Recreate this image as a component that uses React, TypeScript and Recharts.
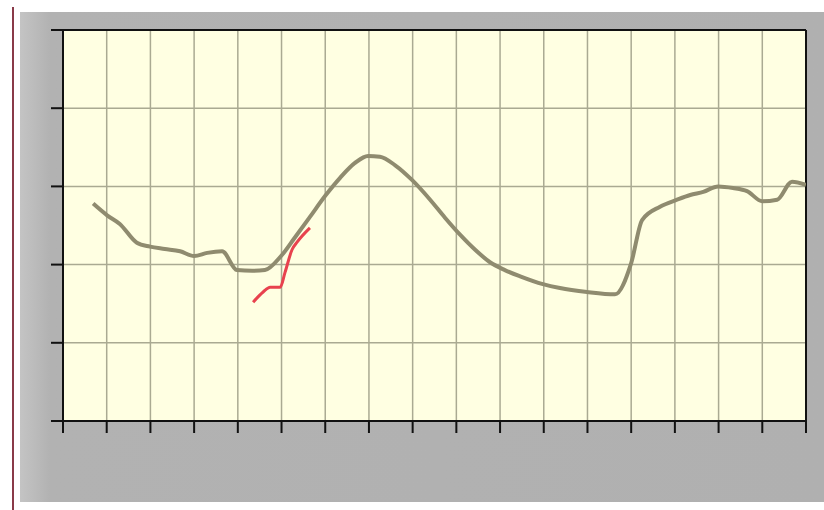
import React from 'react';
import {
  LineChart,
  Line,
  XAxis,
  YAxis,
  CartesianGrid,
  ReferenceLine,
} from 'recharts';

// main trace (x in grid columns, y in grid rows)
const mainX = [
  0.69, 1.01, 1.3, 1.69, 1.99, 2.33, 2.68, 3.0, 3.3, 3.64, 3.98, 4.33, 4.62, 4.99,
  5.31, 5.65, 6.0, 6.34, 6.68, 6.98, 7.25, 7.6, 7.99, 8.4, 8.74, 9.09, 9.43, 9.77,
  10.11, 10.46, 10.98, 11.37, 11.99, 12.63, 13.0, 13.25, 13.66, 14.05, 14.35, 14.65,
  14.99, 15.33, 15.65, 16.0, 16.34, 16.68, 17.0,
];
const mainY = [
  2.78, 2.63, 2.52, 2.28, 2.23, 2.2, 2.17, 2.11, 2.15, 2.17, 1.93, 1.92, 1.93, 2.11,
  2.35, 2.61, 2.88, 3.11, 3.3, 3.39, 3.38, 3.27, 3.08, 2.83, 2.6, 2.38, 2.19, 2.03,
  1.93, 1.85, 1.75, 1.7, 1.65, 1.62, 2.02, 2.57, 2.74, 2.83, 2.89, 2.93, 3.0, 2.98,
  2.94, 2.81, 2.83, 3.06, 3.02,
];

// short red trace
const redX = [4.35, 4.58, 4.74, 4.97, 5.08, 5.24, 5.36, 5.65];
const redY = [1.52, 1.65, 1.71, 1.71, 1.9, 2.19, 2.29, 2.47];

const xTicks = Array.from({ length: 18 }, (_, i) => i);
const yTicks = [0, 1, 2, 3, 4, 5];

const mainData = mainX.map((x, i) => ({ x, v: mainY[i] }));
const redData = redX.map((x, i) => ({ x, v: redY[i] }));

export default function App() {
  return (
    <div
      style={{
        position: 'absolute',
        left: 0,
        top: 0,
        width: 824,
        height: 510,
        background: '#ffffff',
        overflow: 'hidden',
      }}
    >
      <div
        style={{
          position: 'absolute',
          left: 12,
          top: 7,
          width: 2,
          height: 503,
          background: '#8a3a48',
        }}
      />
      <div
        style={{
          position: 'absolute',
          left: 20,
          top: 12,
          width: 804,
          height: 490,
          background: 'linear-gradient(to right, #c4c4c4 0px, #b2b2b2 30px, #b0b0b0 100%)',
        }}
      />
      <div style={{ position: 'absolute', left: 0, top: 0 }}>
        <LineChart
          width={824}
          height={510}
          margin={{ top: 30, right: 18, bottom: 77, left: 51 }}
        >
          <CartesianGrid
            fill="#ffffe2"
            stroke="#aaaa92"
            strokeWidth={1.5}
            horizontalValues={yTicks}
            verticalValues={xTicks}
          />
          <XAxis
            type="number"
            dataKey="x"
            domain={[0, 17]}
            ticks={xTicks}
            interval={0}
            height={12}
            tickSize={12}
            tickFormatter={() => ''}
            stroke="#111111"
            strokeWidth={2}
            allowDataOverflow
          />
          <YAxis
            type="number"
            domain={[0, 5]}
            ticks={yTicks}
            interval={0}
            width={12}
            tickSize={12}
            tickFormatter={() => ''}
            stroke="#111111"
            strokeWidth={2}
            allowDataOverflow
          />
          <ReferenceLine y={5} stroke="#111111" strokeWidth={2} />
          <ReferenceLine x={17} stroke="#111111" strokeWidth={2} />
          <Line
            data={mainData}
            dataKey="v"
            type="monotone"
            stroke="#8f8b6f"
            strokeWidth={4}
            strokeLinejoin="round"
            dot={false}
            isAnimationActive={false}
          />
          <Line
            data={redData}
            dataKey="v"
            type="monotone"
            stroke="#e8424e"
            strokeWidth={3}
            strokeLinejoin="round"
            dot={false}
            isAnimationActive={false}
          />
        </LineChart>
      </div>
    </div>
  );
}
